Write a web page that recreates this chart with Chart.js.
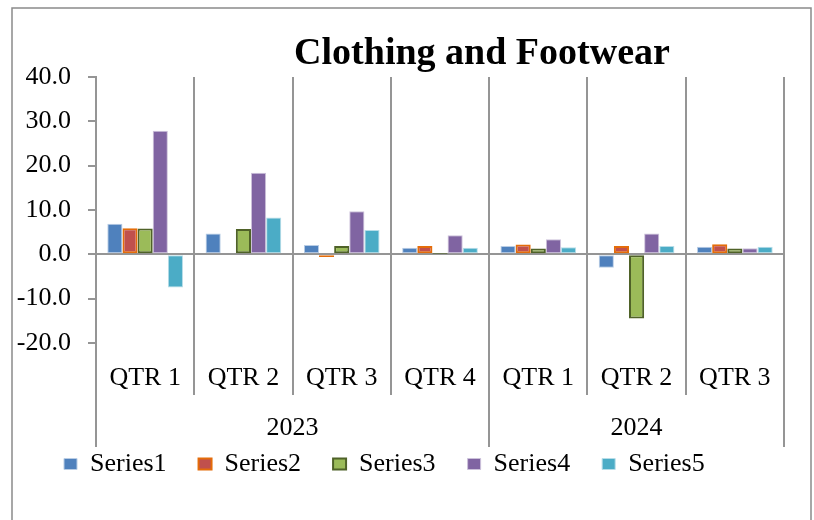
<!DOCTYPE html>
<html>
<head>
<meta charset="utf-8">
<title>Clothing and Footwear</title>
<script src="https://cdn.jsdelivr.net/npm/chart.js@4"></script>
<style>
    html, body { margin: 0; padding: 0; background: #fff; }
    #chartBox { width: 814px; height: 520px; }
</style>
</head>
<body>
<div id="chartBox"><canvas id="clothingChart" width="814" height="520"></canvas></div>
<script>
/* ============================
   Data
   ============================ */

const quarters = ['QTR 1', 'QTR 2', 'QTR 3', 'QTR 4', 'QTR 1', 'QTR 2', 'QTR 3'];
const years = ['2023', '2024'];
const yearSpans = [4, 3];   // how many quarters sit under each year

const series1 = [6.9, 4.7, 2.1, 1.5, 1.9, -3.0, 1.7];
const series2 = [5.9, -0.2, -0.6, 1.9, 2.2, 1.9, 2.3];
const series3 = [5.8, 5.7, 1.9, 0.1, 1.3, -14.5, 1.3];
const series4 = [27.9, 18.4, 9.7, 4.3, 3.4, 4.7, 1.4];
const series5 = [-7.5, 8.3, 5.5, 1.5, 1.6, 1.9, 1.7];

const yTicks = [-20, -10, 0, 10, 20, 30, 40];

/* ============================
   Chart
   ============================ */

const ClothingChart = (() => {
    const FONT = '"Liberation Serif", "Times New Roman", serif';
    const GRID = '#959595';

    // year boundaries and label positions on the 0..7 helper axis
    const bounds = [0];
    yearSpans.forEach(n => bounds.push(bounds[bounds.length - 1] + n));
    const mids = yearSpans.map((n, i) => bounds[i] + n / 2);

    const frame = {
        id: 'frame',
        // legend sits a bit higher / further left than the layout puts it
        afterLayout(chart) {
            const lg = chart.legend;
            if (!lg) return;
            const dx = 32 - lg.left;
            const dy = 419 - lg.top;
            lg.left += dx; lg.right += dx;
            lg.top += dy; lg.bottom += dy;
        },
        beforeDraw(chart) {
            const ctx = chart.ctx;
            ctx.save();
            ctx.strokeStyle = '#8a8a8a';
            ctx.lineWidth = 1.5;
            ctx.strokeRect(12, 8, 799, 600);
            ctx.restore();
        },
        afterDraw(chart) {
            const ctx = chart.ctx;
            ctx.save();
            ctx.font = 'bold 38px ' + FONT;
            ctx.fillStyle = '#000';
            ctx.textAlign = 'center';
            ctx.textBaseline = 'alphabetic';
            ctx.fillText('Clothing and Footwear', 482, 64);
            ctx.restore();
        }
    };

    function dataset(label, data, bg, border, width) {
        return {
            label,
            data,
            backgroundColor: bg,
            borderColor: border,
            borderWidth: width,
            borderSkipped: false,
            barPercentage: 1.0,
            categoryPercentage: 0.77
        };
    }

    function tickValue(c) {
        return c && c.tick ? c.tick.value : undefined;
    }

    function build() {
        const canvas = document.getElementById('clothingChart');

        return new Chart(canvas, {
            type: 'bar',
            data: {
                labels: quarters,
                datasets: [
                    dataset('Series1', series1, '#4F81BD', '#B9CDE5', 1),
                    dataset('Series2', series2, '#C0504D', '#E46C0A', 2),
                    dataset('Series3', series3, '#9BBB59', '#4F6228', 2),
                    dataset('Series4', series4, '#8064A2', '#CCC1DA', 1),
                    dataset('Series5', series5, '#4BACC6', '#B7DDE8', 1)
                ]
            },
            options: {
                responsive: false,
                animation: false,
                devicePixelRatio: 1,
                layout: { padding: { top: 77, left: 12, right: 30, bottom: 1 } },
                plugins: {
                    title: { display: false },
                    tooltip: { enabled: false },
                    legend: {
                        position: 'bottom',
                        align: 'start',
                        labels: {
                            color: '#000',
                            font: { family: FONT, size: 26 },
                            boxWidth: 13,
                            boxHeight: 11,
                            padding: 32
                        }
                    }
                },
                scales: {
                    x: {
                        weight: 0,
                        ticks: {
                            color: '#000',
                            font: { family: FONT, size: 26 },
                            autoSkip: false,
                            maxRotation: 0,
                            padding: -32
                        },
                        grid: {
                            color: GRID,
                            lineWidth: 2,
                            tickLength: 52
                        },
                        border: { display: false },
                        afterFit: s => { s.height = 52; }
                    },
                    x2: {
                        type: 'linear',
                        position: 'bottom',
                        weight: 1,
                        offset: false,
                        min: 0,
                        max: bounds[bounds.length - 1],
                        afterBuildTicks: s => {
                            const vals = bounds.concat(mids).sort((a, b) => a - b);
                            s.ticks = vals.map(v => ({ value: v }));
                        },
                        ticks: {
                            color: '#000',
                            font: { family: FONT, size: 26 },
                            autoSkip: false,
                            maxRotation: 0,
                            padding: -34,
                            callback: v => {
                                const i = mids.indexOf(v);
                                return i >= 0 ? years[i] : '';
                            }
                        },
                        grid: {
                            offset: false,
                            drawOnChartArea: false,
                            tickLength: 52,
                            lineWidth: 2,
                            color: c => bounds.includes(tickValue(c)) ? GRID : 'transparent'
                        },
                        border: { display: false },
                        afterFit: s => { s.height = 56; }
                    },
                    y: {
                        min: yTicks[0],
                        max: yTicks[yTicks.length - 1],
                        afterBuildTicks: s => { s.ticks = yTicks.map(v => ({ value: v })); },
                        ticks: {
                            color: '#000',
                            font: { family: FONT, size: 26 },
                            padding: 17,
                            callback: v => Number(v).toFixed(1)
                        },
                        grid: {
                            lineWidth: 2,
                            tickLength: 8,
                            tickColor: GRID,
                            color: c => tickValue(c) === 0 ? GRID : 'transparent'
                        },
                        border: { display: true, color: GRID, width: 2 },
                        afterFit: s => { s.width = 84; }
                    }
                }
            },
            plugins: [frame]
        });
    }

    return { build };
})();

ClothingChart.build();
</script>
</body>
</html>
